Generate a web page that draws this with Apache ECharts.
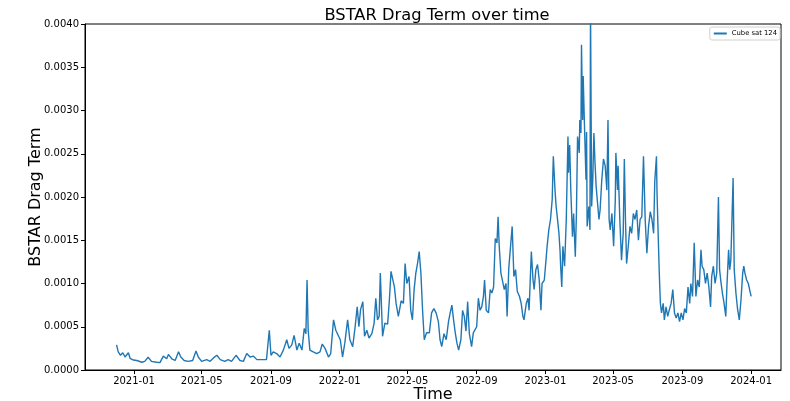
<!DOCTYPE html>
<html>
<head>
<meta charset="utf-8">
<script src="https://cdn.jsdelivr.net/npm/echarts@6/dist/echarts.min.js"></script>
<style>
  html, body { margin: 0; padding: 0; background: #fff; }
  #bstar-chart { width: 790px; height: 401px; }
</style>
</head>
<body>
<div id="bstar-chart"></div>
<script>
// epoch dates and BSTAR values
const dates = [
  "2020-12-01", "2020-12-04", "2020-12-08", "2020-12-12", "2020-12-16", "2020-12-22", "2020-12-25", "2020-12-31",
  "2021-01-06", "2021-01-15", "2021-01-20", "2021-01-26", "2021-02-01", "2021-02-10", "2021-02-16", "2021-02-22",
  "2021-02-28", "2021-03-03", "2021-03-09", "2021-03-15", "2021-03-21", "2021-03-25", "2021-03-31", "2021-04-07",
  "2021-04-15", "2021-04-21", "2021-04-25", "2021-05-01", "2021-05-10", "2021-05-16", "2021-05-22", "2021-05-28",
  "2021-06-03", "2021-06-11", "2021-06-17", "2021-06-23", "2021-07-01", "2021-07-08", "2021-07-14", "2021-07-20",
  "2021-07-26", "2021-08-01", "2021-08-07", "2021-08-16", "2021-08-24", "2021-08-29", "2021-09-01", "2021-09-05",
  "2021-09-11", "2021-09-17", "2021-09-23", "2021-09-29", "2021-10-03", "2021-10-08", "2021-10-12", "2021-10-17",
  "2021-10-21", "2021-10-26", "2021-10-30", "2021-11-02", "2021-11-04", "2021-11-06", "2021-11-09", "2021-11-15",
  "2021-11-21", "2021-11-27", "2021-12-01", "2021-12-06", "2021-12-12", "2021-12-16", "2021-12-21", "2021-12-25",
  "2021-12-28", "2022-01-02", "2022-01-06", "2022-01-10", "2022-01-15", "2022-01-19", "2022-01-24", "2022-01-28",
  "2022-02-01", "2022-02-04", "2022-02-07", "2022-02-11", "2022-02-14", "2022-02-18", "2022-02-22", "2022-02-27",
  "2022-03-03", "2022-03-06", "2022-03-09", "2022-03-12", "2022-03-14", "2022-03-18", "2022-03-22", "2022-03-27",
  "2022-03-30", "2022-04-02", "2022-04-04", "2022-04-08", "2022-04-11", "2022-04-15", "2022-04-20", "2022-04-24",
  "2022-04-27", "2022-04-30", "2022-05-04", "2022-05-07", "2022-05-10", "2022-05-13", "2022-05-16", "2022-05-19",
  "2022-05-22", "2022-05-25", "2022-05-28", "2022-05-31", "2022-06-04", "2022-06-09", "2022-06-13", "2022-06-17",
  "2022-06-21", "2022-06-25", "2022-06-28", "2022-07-01", "2022-07-05", "2022-07-09", "2022-07-13", "2022-07-16",
  "2022-07-19", "2022-07-22", "2022-07-25", "2022-07-28", "2022-07-31", "2022-08-04", "2022-08-07", "2022-08-10",
  "2022-08-13", "2022-08-16", "2022-08-19", "2022-08-23", "2022-08-26", "2022-08-29", "2022-09-01", "2022-09-04",
  "2022-09-07", "2022-09-10", "2022-09-13", "2022-09-15", "2022-09-18", "2022-09-22", "2022-09-25", "2022-09-28",
  "2022-10-01", "2022-10-04", "2022-10-07", "2022-10-09", "2022-10-11", "2022-10-14", "2022-10-17", "2022-10-20",
  "2022-10-23", "2022-10-25", "2022-10-28", "2022-10-31", "2022-11-03", "2022-11-06", "2022-11-09", "2022-11-12",
  "2022-11-16", "2022-11-19", "2022-11-22", "2022-11-24", "2022-11-28", "2022-12-01", "2022-12-03", "2022-12-07",
  "2022-12-10", "2022-12-12", "2022-12-15", "2022-12-18", "2022-12-21", "2022-12-24", "2022-12-26", "2022-12-30",
  "2023-01-02", "2023-01-04", "2023-01-07", "2023-01-10", "2023-01-13", "2023-01-15", "2023-01-18", "2023-01-20",
  "2023-01-22", "2023-01-25", "2023-01-27", "2023-01-28", "2023-01-30", "2023-02-01", "2023-02-04", "2023-02-07",
  "2023-02-10", "2023-02-11", "2023-02-13", "2023-02-15", "2023-02-18", "2023-02-20", "2023-02-23", "2023-02-25",
  "2023-02-27", "2023-03-02", "2023-03-03", "2023-03-05", "2023-03-06", "2023-03-08", "2023-03-09", "2023-03-11",
  "2023-03-14", "2023-03-15", "2023-03-16", "2023-03-19", "2023-03-21", "2023-03-22", "2023-03-24", "2023-03-26",
  "2023-03-28", "2023-03-30", "2023-04-01", "2023-04-04", "2023-04-06", "2023-04-08", "2023-04-11", "2023-04-14",
  "2023-04-17", "2023-04-20", "2023-04-22", "2023-04-24", "2023-04-26", "2023-04-29", "2023-05-02", "2023-05-05",
  "2023-05-06", "2023-05-09", "2023-05-10", "2023-05-13", "2023-05-16", "2023-05-19", "2023-05-21", "2023-05-23",
  "2023-05-25", "2023-05-28", "2023-05-31", "2023-06-03", "2023-06-06", "2023-06-09", "2023-06-12", "2023-06-15",
  "2023-06-18", "2023-06-21", "2023-06-24", "2023-06-27", "2023-06-30", "2023-07-03", "2023-07-06", "2023-07-09",
  "2023-07-12", "2023-07-14", "2023-07-17", "2023-07-18", "2023-07-19", "2023-07-22", "2023-07-24", "2023-07-26",
  "2023-07-29", "2023-07-31", "2023-08-03", "2023-08-06", "2023-08-09", "2023-08-12", "2023-08-15", "2023-08-18",
  "2023-08-21", "2023-08-24", "2023-08-27", "2023-08-30", "2023-09-02", "2023-09-05", "2023-09-08", "2023-09-11",
  "2023-09-14", "2023-09-16", "2023-09-19", "2023-09-22", "2023-09-25", "2023-09-28", "2023-10-01", "2023-10-04",
  "2023-10-06", "2023-10-09", "2023-10-12", "2023-10-15", "2023-10-18", "2023-10-21", "2023-10-23", "2023-10-26",
  "2023-10-29", "2023-11-01", "2023-11-04", "2023-11-06", "2023-11-08", "2023-11-11", "2023-11-14", "2023-11-17",
  "2023-11-19", "2023-11-22", "2023-11-24", "2023-11-26", "2023-11-30", "2023-12-02", "2023-12-05", "2023-12-08",
  "2023-12-11", "2023-12-14", "2023-12-17", "2023-12-19", "2023-12-21", "2023-12-24", "2023-12-27", "2023-12-30",
  "2024-01-01"
];

const bstar = [
  0.00029, 0.00021, 0.00017, 0.00020, 0.00015, 0.00020, 0.000135, 0.000115,
  0.00011, 0.00009, 0.00010, 0.000147, 0.00010, 0.00009, 0.000085, 0.00016,
  0.00013, 0.00018, 0.00013, 0.00011, 0.00021, 0.00015, 0.00011, 0.00010,
  0.00011, 0.00022, 0.00015, 0.00010, 0.00012, 0.00010, 0.00014, 0.00017,
  0.00012, 0.00010, 0.00012, 0.00010, 0.00017, 0.00011, 0.00010, 0.00019,
  0.00015, 0.00016, 0.00012, 0.00012, 0.00012, 0.00046, 0.00017, 0.00021,
  0.00019, 0.00015, 0.00023, 0.00035, 0.00025, 0.00029, 0.00040, 0.00023,
  0.00031, 0.00023, 0.00048, 0.00042, 0.00104, 0.00046, 0.00023, 0.00021,
  0.00019, 0.00021, 0.00030, 0.00025, 0.00015, 0.00019, 0.00058, 0.00046,
  0.00048, 0.00035, 0.00015, 0.00031, 0.00058, 0.00035, 0.00027, 0.00048,
  0.00073, 0.00050, 0.00070, 0.00079, 0.00039, 0.00046, 0.00037, 0.00042,
  0.00054, 0.00083, 0.00058, 0.00062, 0.00112, 0.00039, 0.00054, 0.00053,
  0.00080, 0.00114, 0.00108, 0.00096, 0.00077, 0.00062, 0.00080, 0.00077,
  0.00123, 0.00100, 0.00108, 0.00069, 0.00058, 0.00093, 0.00112, 0.00123,
  0.00137, 0.00112, 0.00069, 0.00035, 0.00043, 0.00043, 0.00066, 0.00071,
  0.00066, 0.00056, 0.00035, 0.00027, 0.00042, 0.00035, 0.00056, 0.00066,
  0.00075, 0.00058, 0.00043, 0.00031, 0.00023, 0.00035, 0.00069, 0.00062,
  0.00045, 0.00079, 0.00042, 0.00027, 0.00043, 0.00042, 0.00050, 0.00083,
  0.00069, 0.00073, 0.00085, 0.00104, 0.00069, 0.00066, 0.00093, 0.00089,
  0.00096, 0.00152, 0.00147, 0.00177, 0.00143, 0.00112, 0.00114, 0.00093,
  0.00100, 0.00062, 0.00118, 0.00120, 0.00166, 0.00108, 0.00116, 0.00091,
  0.00085, 0.00077, 0.00062, 0.00058, 0.00077, 0.00083, 0.00069, 0.00137,
  0.00104, 0.00093, 0.00116, 0.00122, 0.00104, 0.00069, 0.00100, 0.00104,
  0.00127, 0.00143, 0.00162, 0.00174, 0.00197, 0.00247, 0.00208, 0.00189,
  0.00177, 0.00158, 0.00137, 0.00120, 0.00096, 0.00143, 0.00120, 0.00174,
  0.00270, 0.00228, 0.00260, 0.00208, 0.00154, 0.00181, 0.00131, 0.00181,
  0.00270, 0.00251, 0.00289, 0.00274, 0.00376, 0.00289, 0.00340, 0.00289,
  0.00220, 0.00275, 0.00166, 0.00189, 0.00162, 0.00420, 0.00189, 0.00220,
  0.00274, 0.00239, 0.00212, 0.00189, 0.00174, 0.00185, 0.00220, 0.00244,
  0.00236, 0.00208, 0.00289, 0.00174, 0.00162, 0.00181, 0.00143, 0.00197,
  0.00251, 0.00208, 0.00236, 0.00174, 0.00127, 0.00158, 0.00244, 0.00174,
  0.00123, 0.00143, 0.00166, 0.00158, 0.00181, 0.00174, 0.00185, 0.00150,
  0.00174, 0.00177, 0.00247, 0.00174, 0.00135, 0.00166, 0.00183, 0.00174,
  0.00158, 0.00218, 0.00247, 0.00205, 0.00181, 0.00112, 0.00077, 0.00066,
  0.00077, 0.00058, 0.00073, 0.00062, 0.00070, 0.00077, 0.00093, 0.00066,
  0.00060, 0.00066, 0.00056, 0.00066, 0.00058, 0.00071, 0.00066, 0.00096,
  0.00077, 0.00100, 0.00085, 0.00147, 0.00085, 0.00104, 0.00096, 0.00139,
  0.00120, 0.00116, 0.00100, 0.00112, 0.00096, 0.00073, 0.00108, 0.00120,
  0.00100, 0.00112, 0.00200, 0.00116, 0.00104, 0.00089, 0.00077, 0.00062,
  0.00096, 0.00139, 0.00116, 0.00127, 0.00222, 0.00116, 0.00089, 0.00070,
  0.00058, 0.00081, 0.00112, 0.00120, 0.00112, 0.00104, 0.00100, 0.00091,
  0.00085
];

const xTickDates = [
  "2021-01-01", "2021-05-01", "2021-09-01", "2022-01-01", "2022-05-01",
  "2022-09-01", "2023-01-01", "2023-05-01", "2023-09-01", "2024-01-01"
];

(function () {
  let chartDom = document.getElementById("bstar-chart");
  let myChart = echarts.init(chartDom, null, { renderer: "canvas" });
  let option;

  // dates -> ms, plotted on a plain value axis so custom ticks work
  function toMs(s) {
    let p = s.split("-");
    return Date.UTC(+p[0], +p[1] - 1, +p[2]);
  }
  function pad(n) {
    return n < 10 ? "0" + n : "" + n;
  }
  const tickStamps = xTickDates.map(toMs);

  option = {
    animation: false,
    textStyle: { fontFamily: "DejaVu Sans" },
    title: {
      text: "BSTAR Drag Term over time",
      left: 432,
      textAlign: "center",
      top: 3,
      textStyle: {
        fontFamily: "DejaVu Sans",
        fontSize: 16.3,
        fontWeight: "normal",
        color: "#000",
      },
    },
    legend: {
      right: 10,
      top: 27,
      orient: "vertical",
      padding: [3, 3, 3, 4],
      borderColor: "#d0d0d0",
      borderWidth: 1,
      borderRadius: 2,
      itemWidth: 13,
      itemHeight: 2,
      itemGap: 2,
      icon: "rect",
      textStyle: { fontSize: 6.8, color: "#000", fontFamily: "DejaVu Sans" },
      data: ["Cube sat 124"],
    },
    grid: {
      left: 85,
      right: 9,
      top: 24,
      bottom: 31,
      outerBoundsMode: "none",
      show: true,
      borderColor: "#000",
      borderWidth: 1,
    },
    xAxis: {
      type: "value",
      min: toMs("2020-10-06"),
      max: toMs("2024-02-23"),
      name: "Time",
      nameLocation: "middle",
      nameGap: 17,
      nameMoveOverlap: false,
      nameTextStyle: { fontSize: 16, color: "#000", fontFamily: "DejaVu Sans" },
      axisLine: { onZero: false, lineStyle: { color: "#000", width: 1 } },
      axisTick: { show: true, length: 4, customValues: tickStamps, lineStyle: { color: "#000" } },
      axisLabel: {
        customValues: tickStamps,
        fontSize: 10,
        color: "#000",
        margin: 6,
        formatter: function (v) {
          let d = new Date(v);
          return d.getUTCFullYear() + "-" + pad(d.getUTCMonth() + 1);
        },
      },
      splitLine: { show: false },
    },
    yAxis: {
      type: "value",
      min: 0,
      max: 0.004,
      interval: 0.0005,
      name: "BSTAR Drag Term",
      nameLocation: "middle",
      nameRotate: 90,
      nameGap: 41,
      nameMoveOverlap: false,
      nameTextStyle: { fontSize: 16, color: "#000", fontFamily: "DejaVu Sans" },
      axisLine: { show: true, lineStyle: { color: "#000", width: 1 } },
      axisTick: { show: true, length: 4, lineStyle: { color: "#000" } },
      axisLabel: {
        fontSize: 10,
        color: "#000",
        margin: 6,
        formatter: function (v) {
          return v.toFixed(4);
        },
      },
      splitLine: { show: false },
    },
    series: [
      {
        name: "Cube sat 124",
        type: "line",
        showSymbol: false,
        clip: true,
        data: dates.map(function (d, i) {
          return [toMs(d), bstar[i]];
        }),
        lineStyle: { color: "#1f77b4", width: 1.4 },
        itemStyle: { color: "#1f77b4" },
      },
    ],
  };
  option && myChart.setOption(option);
})();
</script>
</body>
</html>
